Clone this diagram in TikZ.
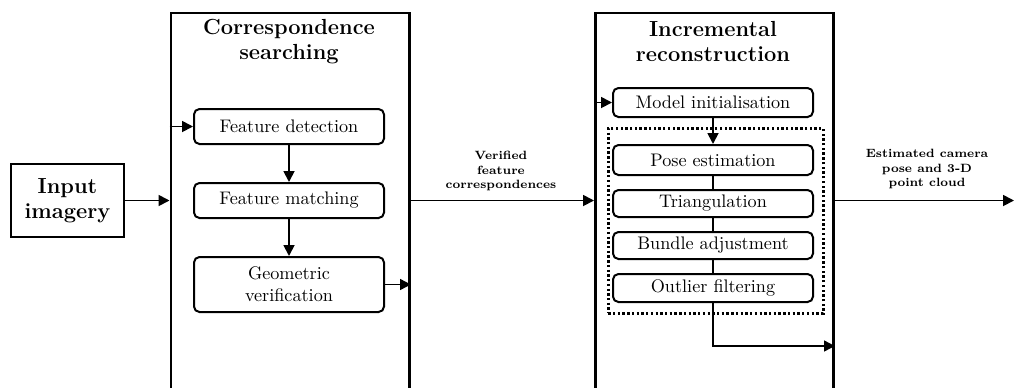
\documentclass[tikz,border=0pt]{standalone}
\usetikzlibrary{arrows.meta}
\begin{document}
\begin{tikzpicture}[x=0.55pt,y=-0.55pt,
  bigbox/.style={draw, line width=1.6pt, inner sep=0pt, anchor=north west},
  inbox/.style={draw, line width=1.3pt, inner sep=0pt, align=center, font=\large\bfseries},
  procbox/.style={draw, line width=1.1pt, rounded corners=3pt, inner sep=0pt, align=center, font=\normalsize},
  loopbox/.style={draw, line width=1.4pt, dash pattern=on 1.3pt off 1.3pt, inner sep=0pt, anchor=north west},
  titletext/.style={align=center, font=\large\bfseries, inner sep=0pt},
  labtext/.style={align=center, font=\fontsize{6.6}{7.9}\selectfont\bfseries, inner sep=0pt},
  arr/.style={line width=1pt, -{Triangle[length=6pt,width=6pt]}},
  conn/.style={line width=1pt}
]
\clip (0,0) rectangle (1014,387);

% big stage boxes
\node[bigbox, minimum width=238.5*0.55pt, minimum height=400*0.55pt] (cs) at (169.5,11.5) {};
\node[bigbox, minimum width=238*0.55pt, minimum height=400*0.55pt] (ir) at (594,11.5) {};

% titles
\node[titletext] (cst) at (289,41.5) {Correspondence\\searching};
\node[titletext] (irt) at (713,41.5) {Incremental\\reconstruction};

% input
\node[inbox, minimum width=113*0.55pt, minimum height=73*0.55pt] (in) at (67.5,200.5) {Input\\imagery};

% correspondence searching steps
\node[procbox, minimum width=190*0.55pt, minimum height=35*0.55pt] (fd) at (289,126.5) {Feature detection};
\node[procbox, minimum width=190*0.55pt, minimum height=35*0.55pt] (fm) at (289,200.5) {Feature matching};
\node[procbox, minimum width=190*0.55pt, minimum height=55*0.55pt] (gv) at (289,284.5) {Geometric\\verification};

% incremental reconstruction steps
\node[loopbox, minimum width=215*0.55pt, minimum height=185*0.55pt] (loop) at (607,127) {};
\node[procbox, minimum width=200*0.55pt, minimum height=29*0.55pt] (mi) at (713,102.5) {Model initialisation};
\node[procbox, minimum width=200*0.55pt, minimum height=30*0.55pt] (pe) at (713,160) {Pose estimation};
\node[procbox, minimum width=200*0.55pt, minimum height=27*0.55pt] (tr) at (713,203.5) {Triangulation};
\node[procbox, minimum width=200*0.55pt, minimum height=27*0.55pt] (ba) at (713,245.5) {Bundle adjustment};
\node[procbox, minimum width=200*0.55pt, minimum height=28*0.55pt] (of) at (713,288) {Outlier filtering};

% labels
\node[labtext] (vfc) at (501,171) {Verified\\feature\\correspondences};
\node[labtext] (ecp) at (927,169) {Estimated camera\\pose and 3-D\\point cloud};

% connectors
\coordinate (bend) at (713,346);
\coordinate (out) at (1014,200.5);

\draw[arr] (in.east) -- (cs.west |- in.east);
\draw[arr] (cs.west |- fd) -- (fd.west);
\draw[arr] (fd.south) -- (fm.north);
\draw[arr] (fm.south) -- (gv.north);
\draw[arr] (gv.east) -- (cs.east |- gv);
\draw[arr] (cs.east |- fm) -- (ir.west |- fm);
\draw[arr] (ir.west |- mi) -- (mi.west);
\draw[arr] (mi.south) -- (pe.north);
\draw[conn] (pe.south) -- (tr.north);
\draw[conn] (tr.south) -- (ba.north);
\draw[conn] (ba.south) -- (of.north);
\draw[arr] (of.south) -- (bend) -- (ir.east |- bend);
\draw[arr] (ir.east |- fm) -- (out);
\end{tikzpicture}
\end{document}
